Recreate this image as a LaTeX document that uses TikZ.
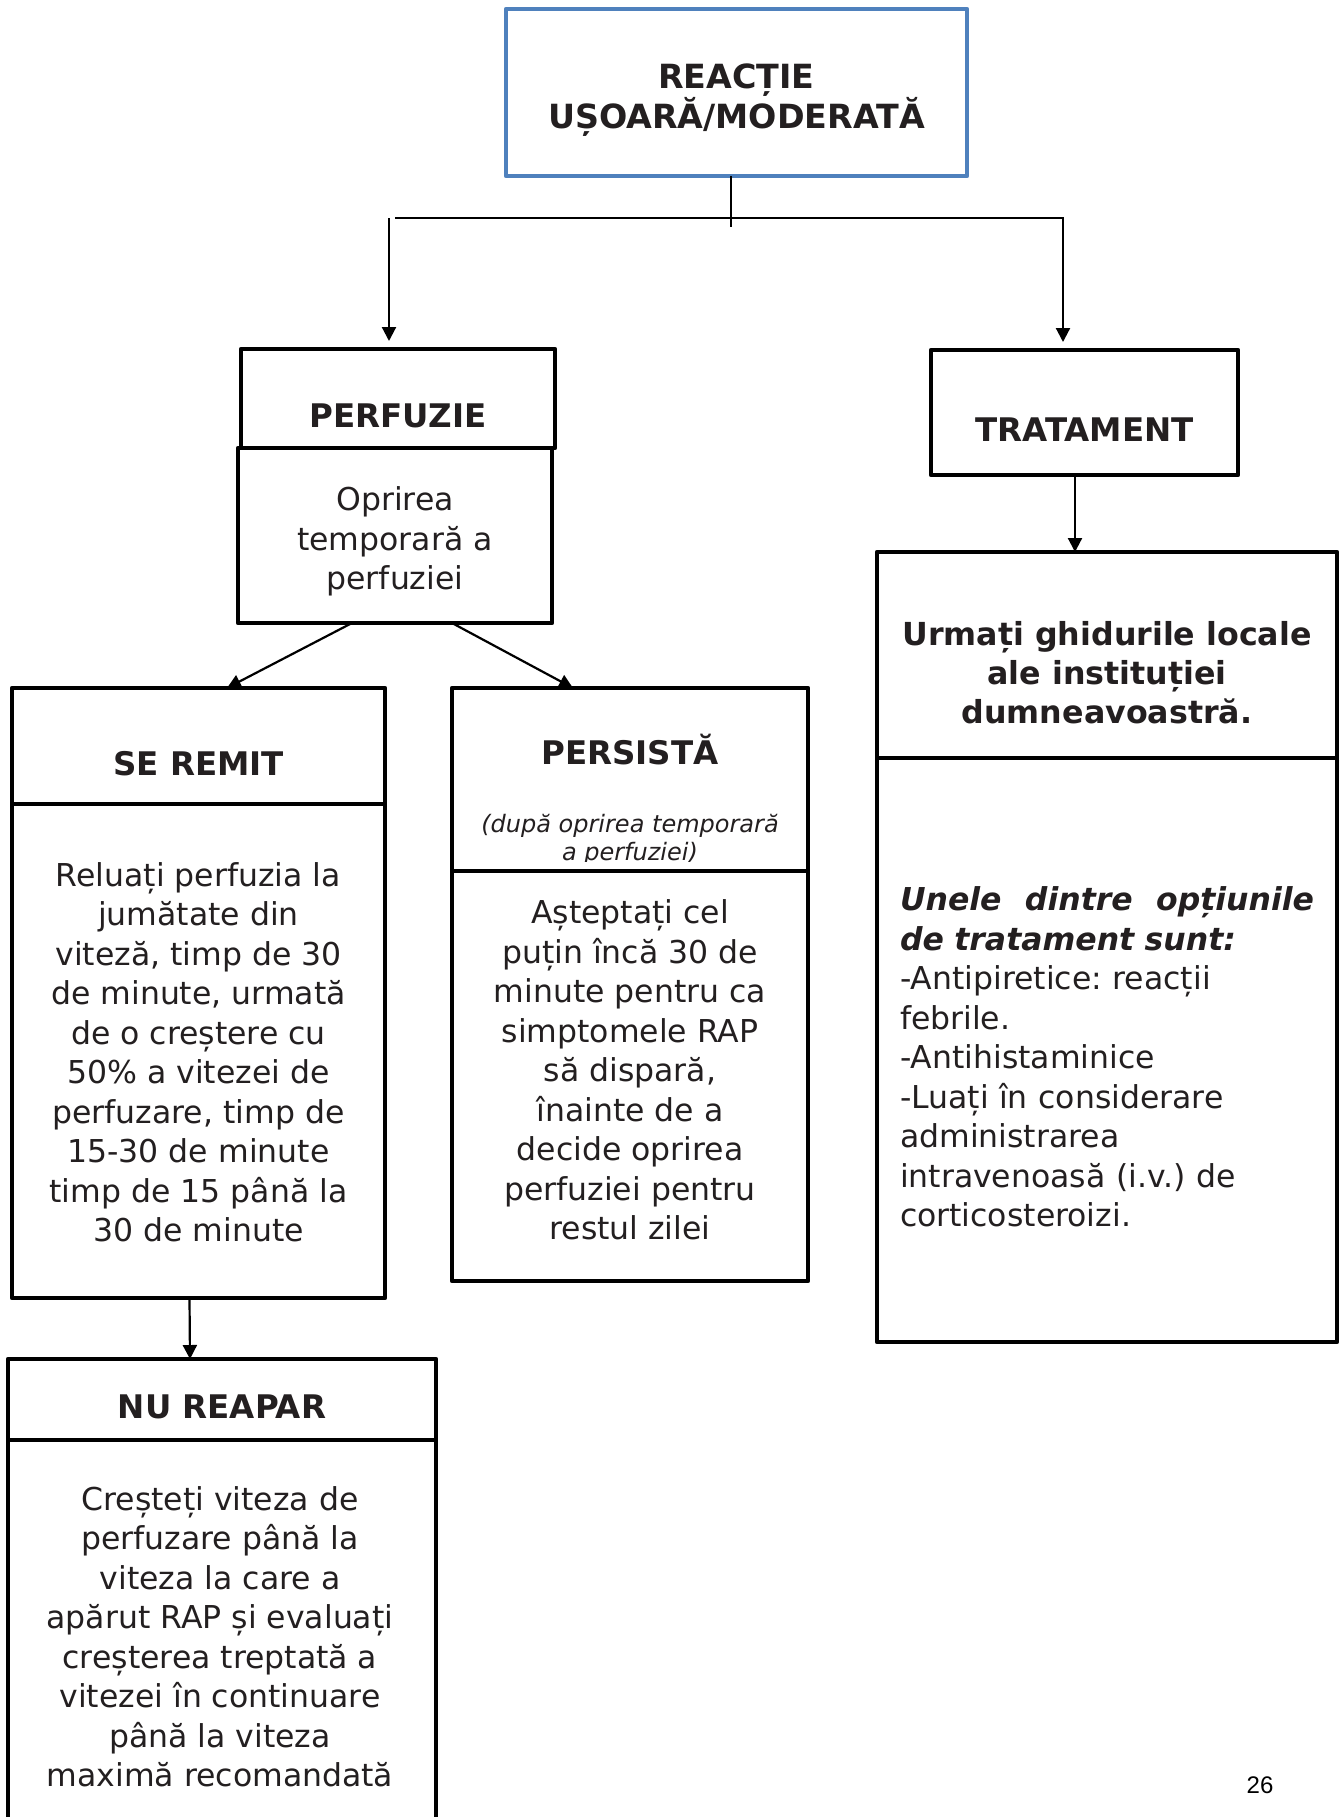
\documentclass[tikz,border=0pt]{standalone}
\usepackage{fontspec}
\setmainfont{DejaVu Sans}
\newfontfamily\pagefont{Liberation Sans}
\usepackage{xcolor}
\usetikzlibrary{arrows.meta}
\definecolor{ink}{HTML}{231F20}
\definecolor{topblue}{HTML}{4F81BD}

\begin{document}
\frenchspacing
\begin{tikzpicture}[x=1pt,y=-1pt,
     box/.style={draw=black,line width=4.2pt,fill=white,anchor=north west,inner sep=0pt,outer sep=0pt,line join=round},
     ttl/.style={font=\bfseries\fontsize{32.5}{39}\selectfont,text=ink,align=center,inner sep=0pt},
     txt/.style={font=\fontsize{31.5}{39.5}\selectfont,text=ink,align=center,inner sep=0pt},
     arr/.style={draw=black,line width=2.2pt,-{Triangle[length=14pt,width=14pt]}}]
    \useasboundingbox (0,0) rectangle (1341,1817);
    \clip (0,0) rectangle (1341,1817);
    \node[box,draw=topblue,line width=4.5pt,minimum width=461pt,minimum height=167pt](top) at (506,9){};
    \node[ttl,font=\bfseries\fontsize{33.3}{38.5}\selectfont](topT) at (736.5,100){REACȚIE\\UȘOARĂ/MODERATĂ};
    \node[box,minimum width=314pt,minimum height=99pt](perfH) at (241,349){};
    \node[ttl](perfT) at (398,416){PERFUZIE};
    \node[box,minimum width=314pt,minimum height=175pt](perfB) at (238,448){};
    \node[txt](perfX) at (395,541.5){Oprirea\\temporară a\\perfuziei};
    \node[box,minimum width=307pt,minimum height=125pt](trat) at (931,350){};
    \node[ttl](tratT) at (1084.5,430){TRATAMENT};
    \node[box,minimum width=460pt,minimum height=206pt](urmH) at (877,552){};
    \node[ttl,font=\bfseries\fontsize{31.7}{39}\selectfont](urmT) at (1107,673){Urmați ghidurile locale\\ale instituției\\dumneavoastră.};
    \node[box,minimum width=460pt,minimum height=584pt](urmB) at (877,758){};
    \node[txt,align=left,text width=414pt](urmX) at (1107,1057){%
      \textbf{\textit{Unele\hfill dintre\hfill opțiunile}}\\\textbf{\textit{de tratament sunt:}}\\-Antipiretice: reacții\\febrile.\\-Antihistaminice\\-Luați în considerare\\administrarea\\intravenoasă (i.v.) de\\corticosteroizi.};
    \node[box,minimum width=373pt,minimum height=116pt](remH) at (12,688){};
    \node[ttl](remT) at (198.5,764){SE REMIT};
    \node[box,minimum width=373pt,minimum height=494pt](remB) at (12,804){};
    \node[txt](remX) at (198.5,1052){Reluați perfuzia la\\jumătate din\\viteză, timp de 30\\de minute, urmată\\de o creștere cu\\50\% a vitezei de\\perfuzare, timp de\\15-30 de minute\\timp de 15 până la\\30 de minute};
    \node[box,minimum width=356pt,minimum height=183pt](persH) at (452,688){};
    \node[ttl](persT) at (630,750){PERSISTĂ};
    \begin{scope}
      \clip (persH.north west) rectangle ([yshift=10pt]persH.south east);
      \node[txt,font=\itshape\fontsize{24}{28}\selectfont](persN) at (630,839.5){(după oprirea temporară\\a perfuziei)};
    \end{scope}
    \node[box,minimum width=356pt,minimum height=410pt](persB) at (452,871){};
    \node[txt](persX) at (630,1070){Așteptați cel\\puțin încă 30 de\\minute pentru ca\\simptomele RAP\\să dispară,\\înainte de a\\decide oprirea\\perfuziei pentru\\restul zilei};
    \node[box,minimum width=428pt,minimum height=81pt](nuH) at (8,1359){};
    \node[ttl](nuT) at (222,1406.5){NU REAPAR};
    \node[box,minimum width=428pt,minimum height=393pt](nuB) at (8,1440){};
    \node[txt](nuX) at (220,1636.5){Creșteți viteza de\\perfuzare până la\\viteza la care a\\apărut RAP și evaluați\\creșterea treptată a\\vitezei în continuare\\până la viteza\\maximă recomandată};
    \node[font=\pagefont\fontsize{24}{28}\selectfont](pg) at (1260,1785){26};
    \coordinate (jT) at (731,227); \coordinate (jL) at (395,218);
    \coordinate (jR) at (1063,218); \coordinate (dL) at (389,218);
    \draw[black,line width=2.2pt] ([xshift=-5.5pt]top.south) -- (jT);
    \draw[arr,shorten >=8pt] (jL) -- (jR) -- (jR |- trat.north);
    \draw[arr,shorten >=8pt] (dL) -- (dL |- perfH.north);
    \draw[arr] ([xshift=-43pt]perfB.south) -- ([xshift=28.5pt]remH.north);
    \draw[arr] ([xshift=57pt]perfB.south) -- ([xshift=-57pt]persH.north);
    \draw[arr] ([xshift=-9.5pt]trat.south) -- ([xshift=-32pt]urmH.north);
    \draw[arr] ([xshift=-9pt]remB.south) -- ([xshift=-32pt]nuH.north);
  \end{tikzpicture}
\end{document}
